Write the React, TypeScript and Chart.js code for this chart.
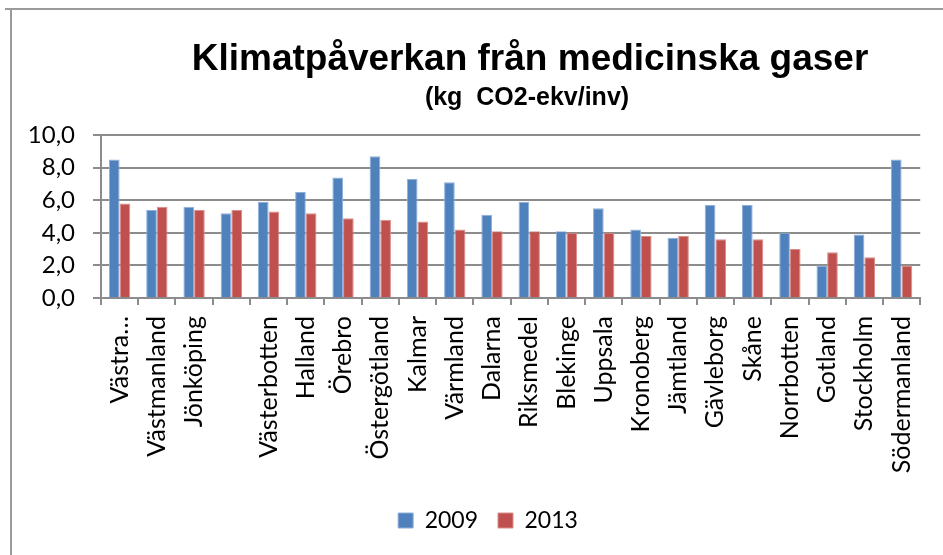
import React, { useEffect, useRef } from "react";
import { Chart, registerables } from "chart.js";

Chart.register(...registerables);

const categories: string[] = [
  "Västra…", "Västmanland", "Jönköping", "", "Västerbotten", "Halland", "Örebro",
  "Östergötland", "Kalmar", "Värmland", "Dalarna", "Riksmedel", "Blekinge", "Uppsala",
  "Kronoberg", "Jämtland", "Gävleborg", "Skåne", "Norrbotten", "Gotland", "Stockholm",
  "Södermanland",
];
const values2009: number[] = [
  8.5, 5.4, 5.6, 5.2, 5.9, 6.5, 7.4, 8.7, 7.3, 7.1, 5.1, 5.9, 4.1, 5.5, 4.2, 3.7, 5.7, 5.7, 4.0, 2.0, 3.9, 8.5,
];
const values2013: number[] = [
  5.8, 5.6, 5.4, 5.4, 5.3, 5.2, 4.9, 4.8, 4.7, 4.2, 4.1, 4.1, 4.0, 4.0, 3.8, 3.8, 3.6, 3.6, 3.0, 2.8, 2.5, 2.0,
];
const seriesNames: string[] = ["2009", "2013"];
const yTicks: number[] = [0, 2, 4, 6, 8, 10];
const titleText = "Klimatpåverkan från medicinska gaser";
const subtitleText = "(kg  CO2-ekv/inv)";

const FONT = "Lato, 'Noto Sans', sans-serif";
const GRID = "#8c8c8c";

const decorPlugin = {
  id: "decor",
  afterLayout(chart: any) {
    const lg = chart.legend;
    if (lg) {
      lg.left += 18;
      lg.right += 18;
    }
  },
  beforeDraw(chart: any) {
    const ctx = chart.ctx;
    ctx.save();
    ctx.fillStyle = "#ffffff";
    ctx.fillRect(0, 0, chart.width, chart.height);
    ctx.fillStyle = "#9a9a9a";
    ctx.fillRect(5, 8, chart.width - 5, 2);
    ctx.fillRect(10, 8, 2, chart.height - 8);
    ctx.restore();
  },
  afterDraw(chart: any) {
    const ctx = chart.ctx;
    ctx.save();
    ctx.fillStyle = "#000000";
    ctx.textAlign = "center";
    ctx.textBaseline = "alphabetic";
    ctx.font = "bold 37px 'Liberation Sans', Arial, sans-serif";
    ctx.fillText(titleText, 530, 70);
    ctx.font = "bold 25px 'Liberation Sans', Arial, sans-serif";
    ctx.fillText(subtitleText, 527, 105);
    ctx.restore();
  },
};

export default function App() {
  const ref = useRef<HTMLCanvasElement | null>(null);
  useEffect(() => {
    if (!ref.current) return;
    const chart = new Chart(ref.current, {
      type: "bar",
      data: {
        labels: categories,
        datasets: [
          {
            label: seriesNames[0],
            data: values2009,
            backgroundColor: "#4F81BD",
            borderColor: "#8EB0DA",
            borderWidth: 1,
            barPercentage: 1,
            categoryPercentage: 0.573,
          },
          {
            label: seriesNames[1],
            data: values2013,
            backgroundColor: "#C0504D",
            borderColor: "#D98E8C",
            borderWidth: 1,
            barPercentage: 1,
            categoryPercentage: 0.573,
          },
        ],
      },
      options: {
        responsive: false,
        animation: false,
        layout: { padding: { top: 135, left: 14, right: 17, bottom: 13 } },
        plugins: {
          title: { display: false },
          tooltip: { enabled: false },
          legend: {
            position: "bottom",
            labels: {
              boxWidth: 15,
              boxHeight: 15,
              padding: 20,
              color: "#000",
              font: { family: FONT, size: 23 },
            },
          },
        },
        scales: {
          x: {
            offset: true,
            grid: {
              display: true,
              drawOnChartArea: false,
              drawTicks: true,
              tickLength: 7,
              color: GRID,
              lineWidth: 2,
              offset: true,
            },
            border: { display: true, color: GRID, width: 2 },
            ticks: {
              autoSkip: false,
              maxRotation: 90,
              minRotation: 90,
              padding: 11,
              color: "#000",
              font: { family: FONT, size: 25 },
            },
            afterFit: (scale: any) => {
              scale.height = 191;
            },
          },
          y: {
            min: 0,
            max: 10,
            afterBuildTicks: (scale: any) => {
              scale.ticks = yTicks.map((v) => ({ value: v }));
            },
            grid: {
              color: GRID,
              lineWidth: 2,
              drawTicks: true,
              tickLength: 8,
            },
            border: { display: true, color: GRID, width: 2 },
            ticks: {
              padding: 18,
              color: "#000",
              font: { family: FONT, size: 24 },
              callback: (v: any) => Number(v).toFixed(1).replace(".", ","),
            },
            afterFit: (scale: any) => {
              scale.width = 87;
            },
          },
        },
      },
      plugins: [decorPlugin],
    });
    return () => chart.destroy();
  }, []);
  return (
    <div style={{ position: "absolute", left: 0, top: 0, width: 943, height: 555 }}>
      <canvas ref={ref} width={943} height={555} style={{ width: 943, height: 555, display: "block" }} />
    </div>
  );
}
